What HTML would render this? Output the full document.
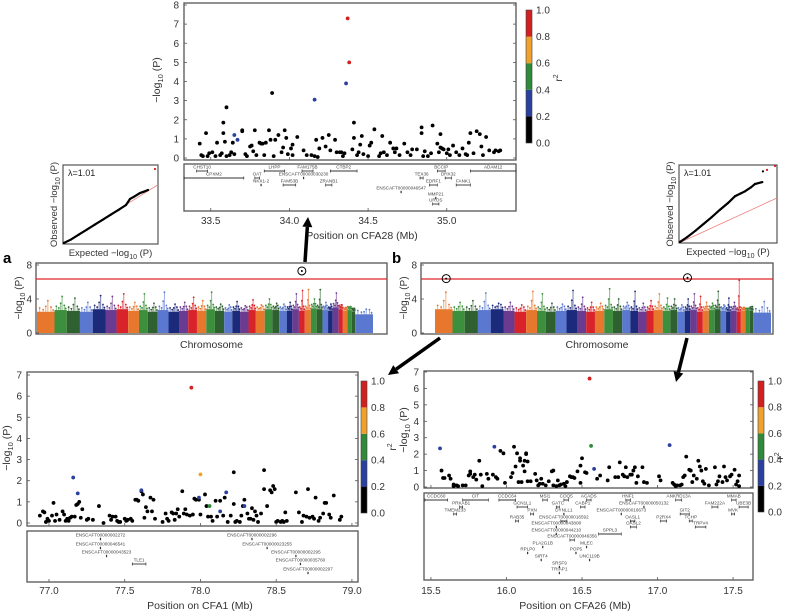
<!DOCTYPE html>
<html><head><meta charset="utf-8">
<style>
html,body{margin:0;padding:0;background:#fff;}
svg{display:block;font-family:"Liberation Sans",sans-serif;}
</style></head>
<body>
<svg id="fig" width="786" height="612" viewBox="0 0 786 612" xmlns="http://www.w3.org/2000/svg"></svg>
<script>
// ---------- DATA ----------
const c28Pos=[33.43,33.44,33.45,33.47,33.48,33.49,33.51,33.53,33.54,33.56,33.57,33.58,33.58,33.59,33.60,33.60,33.62,33.63,33.64,33.65,33.70,33.70,33.72,33.73,33.75,33.76,33.77,33.78,33.79,33.81,33.82,33.83,33.84,33.85,33.87,33.88,33.89,33.90,33.91,33.93,33.95,33.96,33.97,33.98,33.99,34.01,34.02,34.02,34.05,34.09,34.11,34.14,34.16,34.17,34.18,34.19,34.21,34.23,34.25,34.26,34.29,34.30,34.32,34.33,34.34,34.35,34.40,34.41,34.41,34.43,34.44,34.45,34.46,34.47,34.50,34.51,34.52,34.54,34.57,34.58,34.59,34.60,34.62,34.64,34.66,34.67,34.68,34.70,34.73,34.75,34.77,34.78,34.81,34.84,34.84,34.85,34.86,34.88,34.90,34.91,34.94,34.95,34.96,34.96,34.97,34.98,35.00,35.01,35.02,35.04,35.06,35.08,35.10,35.12,35.13,35.14,35.15,35.17,35.19,35.21,35.22,35.23,35.25,35.27,35.30,35.31,35.33,35.34];
const c28Val=[0.75,0.15,0.1,1.3,0.1,0.25,0.3,0.1,0.8,0.15,0.25,1.3,1.85,0.85,2.65,0.1,0.15,0.3,0.8,0.2,1.4,1.45,0.2,0.1,0.6,0.65,0.35,1.45,0.15,0.8,0.75,0.75,0.15,0.8,1.45,0.95,3.4,0.1,0.95,1.2,0.3,0.55,1.45,1.05,0.2,0.5,0.7,0.15,1.1,0.4,0.15,0.15,0.1,0.95,0.05,0.5,1.05,0.6,1.2,0.4,0.95,0.3,0.3,0.3,0.1,0.25,0.45,1.85,1.05,0.15,0.3,0.7,1.15,0.2,0.1,0.65,0.8,1.5,0.1,0.25,1.15,0.3,0.15,0.8,0.5,0.3,0.5,0.15,0.75,0.3,0.15,0.45,0.45,1.6,1.3,0.1,0.35,0.1,0.25,1.7,0.75,0.3,0.55,1.25,0.5,0.45,0.25,0.45,0.15,0.65,0.3,0.15,0.5,0.2,0.15,0.8,1.3,0.25,1.4,1.25,0.6,0.15,1.1,0.4,0.3,0.4,0.35,0.4];
const c28HitPos=[34.37,34.38,34.36,34.16,33.65,33.67];
const c28HitVal=[7.3,5.0,3.9,3.05,1.2,0.95];
const c28HitR2=[4,4,1,1,1,1];
const c28XTicks=[33.5,34.0,34.5,35.0];
const c28YTicks=[0,1,2,3,4,5,6,7,8];
const c28GeneName=["CHST10","CPXM2","OAT","NKX1-2","LHPP","FAM53B","ENSCAFT00000030230","FAM175B","ZRANB1","CTBP2","ENSCAFT00000046547","TEX36","EDRF1","MMP21","UROS","BCCIP","DHX32","FANK1","ADAM12"];
const c28GeneStart=[33.41,33.33,33.78,33.82,33.84,33.96,34.09,34.08,34.23,34.26,34.71,34.83,34.89,34.93,34.91,34.94,34.99,35.06,35.15];
const c28GeneEnd=[33.48,33.71,33.81,33.82,33.97,34.04,34.09,34.15,34.27,34.43,34.71,34.85,34.94,34.93,34.95,34.99,35.03,35.15,35.44];
const c28GeneRow=[0,1,1,2,0,2,1,0,2,0,3,1,2,4,5,0,1,2,0];

const c1Pos=[76.94,76.96,76.97,76.98,76.99,77.00,77.02,77.03,77.04,77.05,77.07,77.09,77.10,77.11,77.12,77.13,77.14,77.15,77.17,77.18,77.19,77.20,77.21,77.22,77.25,77.26,77.29,77.33,77.36,77.40,77.41,77.42,77.44,77.45,77.46,77.47,77.50,77.51,77.52,77.54,77.55,77.57,77.58,77.59,77.61,77.62,77.63,77.64,77.65,77.67,77.68,77.69,77.70,77.75,77.77,77.78,77.79,77.81,77.82,77.83,77.84,77.85,77.86,77.88,77.89,77.90,77.91,77.93,77.95,77.96,77.97,77.99,78.00,78.03,78.04,78.05,78.07,78.08,78.10,78.11,78.13,78.15,78.16,78.18,78.20,78.22,78.22,78.23,78.24,78.26,78.27,78.28,78.29,78.31,78.32,78.33,78.34,78.35,78.36,78.37,78.38,78.40,78.42,78.42,78.44,78.46,78.47,78.48,78.49,78.50,78.51,78.53,78.54,78.55,78.56,78.57,78.63,78.65,78.67,78.68,78.70,78.71,78.72,78.74,78.75,78.76,78.78,78.79,78.81,78.82,78.83,78.85,78.86,78.88,78.92,78.93];
const c1Val=[0.35,0.55,0.5,0.05,0.2,0.1,0.35,0.95,0.1,0.4,0.15,0.55,0.4,0.1,0.2,0.1,0.25,0.3,0.3,0.85,0.9,1.0,0.25,0.65,0.15,0.2,0.15,0.8,0.0,0.35,0.15,0.3,0.3,0.1,0.05,0.05,0.2,0.1,0.15,0.2,0.1,1.1,1.1,1.05,1.5,1.35,0.25,0.75,0.55,1.2,0.55,1.1,0.2,0.05,0.45,0.2,0.1,0.5,0.45,0.15,0.45,0.65,0.3,1.5,0.45,0.65,0.4,0.35,0.4,1.15,1.1,1.1,0.4,1.35,0.8,0.3,0.3,0.1,1.05,0.3,1.05,0.35,1.2,0.05,0.35,0.9,2.4,0.05,0.1,0.05,0.35,0.8,1.1,0.45,0.2,0.2,0.7,0.15,0.55,0.35,0.05,0.45,1.6,2.5,0.8,1.55,1.45,1.75,1.6,0.05,0.1,0.05,0.1,0.05,0.5,0.1,1.45,0.5,0.05,0.35,0.3,1.6,0.25,0.3,0.2,1.2,0.1,0.25,0.45,0.95,0.95,0.4,0.25,1.3,0.15,0.3];
const c1HitPos=[77.94,78.00,78.06,77.99,77.16,77.19,77.61,78.17,78.13,78.29];
const c1HitVal=[6.4,2.3,0.8,1.2,2.15,1.4,1.55,1.45,0.55,0.8];
const c1HitR2=[4,3,2,1,1,1,1,1,1,1];
const c1XTicks=[77.0,77.5,78.0,78.5,79.0];
const c1YTicks=[0,1,2,3,4,5,6,7];
const c1GeneName=["ENSCAFT00000002272","ENSCAFT00000046541","ENSCAFT00000043523","TLE1","ENSCAFT00000002296","ENSCAFT00000023255","ENSCAFT00000002295","ENSCAFT00000035760","ENSCAFT00000002297"];
const c1GeneStart=[77.34,77.34,77.38,77.55,78.34,78.44,78.63,78.66,78.71];
const c1GeneEnd=[77.34,77.34,77.38,77.64,78.34,78.44,78.63,78.66,78.71];
const c1GeneRow=[0,1,2,3,0,1,2,3,4];

const c26Pos=[15.57,15.58,15.59,15.62,15.63,15.65,15.65,15.67,15.68,15.71,15.73,15.75,15.76,15.76,15.78,15.79,15.80,15.82,15.83,15.84,15.87,15.88,15.91,15.93,15.94,15.96,15.98,15.99,16.03,16.04,16.05,16.06,16.07,16.08,16.09,16.09,16.10,16.11,16.12,16.12,16.13,16.13,16.14,16.14,16.16,16.19,16.20,16.21,16.22,16.23,16.24,16.26,16.28,16.30,16.31,16.31,16.33,16.34,16.35,16.36,16.38,16.39,16.40,16.42,16.43,16.44,16.45,16.47,16.49,16.49,16.50,16.52,16.53,16.60,16.62,16.67,16.68,16.72,16.74,16.75,16.77,16.78,16.79,16.80,16.82,16.83,16.84,16.85,16.86,16.87,16.90,16.91,16.93,17.01,17.02,17.10,17.11,17.12,17.13,17.15,17.16,17.17,17.18,17.19,17.21,17.22,17.23,17.24,17.26,17.27,17.28,17.29,17.30,17.31,17.32,17.34,17.38,17.39,17.40,17.41,17.43,17.44,17.45,17.46,17.48,17.49,17.51,17.52,17.53,17.54,17.54];
const c26Val=[1.0,0.55,0.55,0.7,0.5,0.15,0.05,0.1,0.05,0.1,0.1,0.7,0.95,0.8,0.6,0.75,0.45,1.6,0.75,0.05,0.8,0.5,0.75,0.6,0.5,2.2,2.05,0.25,0.6,0.85,2.45,1.25,2.05,0.3,1.6,1.75,0.3,1.3,0.95,1.6,2.0,2.05,1.55,0.35,0.35,0.8,0.4,0.1,0.2,0.5,0.2,0.1,0.35,0.95,1.0,0.1,0.05,0.4,0.1,0.15,0.2,0.05,0.3,0.65,0.6,0.6,0.55,0.95,0.25,1.3,1.75,0.9,0.85,0.5,0.7,0.4,1.2,0.6,0.6,1.5,0.75,0.65,1.2,0.6,0.75,0.75,1.0,1.2,0.25,0.65,1.2,0.3,0.25,0.65,0.4,0.25,0.15,0.05,0.1,0.1,0.15,0.6,0.7,1.85,1.05,1.0,0.3,0.7,0.5,1.6,1.25,1.0,0.35,0.2,1.1,0.1,1.2,0.15,0.35,0.65,0.3,1.25,0.6,0.4,0.65,0.75,1.05,0.15,0.35,0.7,0.05];
const c26HitPos=[16.55,16.56,16.58,15.56,15.92,17.08];
const c26HitVal=[6.6,2.5,1.1,2.35,2.45,2.55];
const c26HitR2=[4,2,1,1,1,1];
const c26XTicks=[15.5,16.0,16.5,17.0,17.5];
const c26YTicks=[0,1,2,3,4,5,6,7];
const c26GeneName=["CCDC60","CIT","PRKAB1","TMEM233","CCDC64","GCN1L1","PXN","RAB35","MSI1","COQ5","GATC","DYNLL1","ENSCAFT00000016592","ENSCAFT00000043808","ENSCAFT00000044210","ENSCAFT00000046356","PLA2G1B","RPLP0","SIRT4","SRSF9","TRIAP1","CABP1","ACADS","MLEC","POP5","UNC119B","SPPL3","HNF1","ENSCAFT00000050132","ENSCAFT00000016673","OASL1","OASL2","P2RX4","ANKRD13A","GIT2","TCHP","TRPV4","FAM222A","MMAB","UBE3B","MVK"];
const c26GeneStart=[15.46,15.71,15.69,15.65,15.95,16.07,16.16,16.06,16.24,16.38,16.33,16.38,16.36,16.33,16.33,16.42,16.24,16.14,16.23,16.35,16.35,16.49,16.53,16.53,16.46,16.55,16.61,16.79,16.91,16.76,16.82,16.82,17.02,17.12,17.15,17.21,17.25,17.36,17.49,17.54,17.49];
const c26GeneEnd=[15.61,15.88,15.71,15.67,16.06,16.14,16.18,16.08,16.27,16.41,16.35,16.38,16.40,16.33,16.33,16.45,16.24,16.14,16.23,16.35,16.35,16.52,16.56,16.53,16.46,16.55,16.76,16.82,16.91,16.76,16.85,16.86,17.06,17.16,17.21,17.23,17.32,17.40,17.52,17.60,17.51];
const c26GeneRow=[0,0,1,2,0,1,2,3,0,0,1,2,3,4,5,6,7,8,9,10,11,1,0,7,8,9,5,0,1,2,3,4,3,0,2,3,4,1,0,1,2];

const chrNames=["1","2","3","4","5","6","7","8","9","10","11","12","13","14","15","16","17","18","19","20","21","22","23","24","25","26","27","28","29","30","31","32","33","34","35","36","37","38","X"];
const chrLen=[122,85,92,89,89,77,81,75,61,70,75,73,64,61,65,60,65,56,54,59,51,62,53,48,52,39,46,41,42,41,40,39,32,42,29,31,31,24,124];
const manABase=[2.5,2.7,2.6,2.5,2.8,2.7,2.8,2.6,2.7,2.5,2.7,2.5,2.6,2.7,2.6,2.8,2.6,2.5,2.6,2.5,2.7,2.6,2.8,2.7,2.6,2.6,2.8,2.6,2.7,2.9,2.8,2.7,2.6,3.0,2.8,2.6,2.7,2.5,2.2];
const manAPeak=[3.8,4.3,4.1,3.6,4.4,4.3,4.6,3.6,4.6,3.5,4.8,3.4,3.6,4.2,3.8,4.8,3.4,3.3,3.7,3.2,3.9,3.3,4.0,3.5,3.4,3.6,4.6,5.0,5.1,4.0,5.1,3.6,3.4,4.7,3.3,3.0,3.1,2.9,2.8];
const manBBase=[2.8,2.6,2.6,2.7,2.8,2.6,2.5,2.7,2.6,2.5,2.6,2.7,2.6,2.5,2.6,2.8,2.6,2.7,2.6,2.5,2.6,2.7,2.6,2.7,2.5,2.6,2.7,2.5,2.6,2.7,2.8,2.6,2.5,2.6,2.5,2.6,2.7,2.6,2.4];
const manBPeak=[4.8,3.6,3.8,4.7,3.5,3.6,3.3,4.9,4.6,3.5,3.4,5.0,4.2,3.6,3.5,5.2,4.0,3.6,4.9,3.5,3.8,4.6,4.1,4.0,3.3,4.0,4.6,4.3,3.6,3.5,4.9,3.3,4.1,3.6,6.2,3.0,2.9,3.1,3.7];
const manAHitChr=[27]; const manAHitVal=[7.3];
const manBHitChr=[0,25]; const manBHitVal=[6.4,6.5];
const gwThreshold=6.35;
const manYTicks=[0,4,8];

const qqAExp=[0.05,0.5,1.0,1.5,2.0,2.5,3.0,3.5,3.98,4.23,4.5,4.86,5.1,5.37];
const qqAObs=[0.1,0.45,0.95,1.45,1.95,2.45,2.95,3.45,3.95,4.56,4.8,5.16,5.3,5.47];
const qqAHitExp=[5.81]; const qqAHitObs=[7.6];
const qqBExp=[0.05,0.5,1.0,1.5,2.0,2.5,3.0,3.43,3.8,4.04,4.4,4.65,5.1];
const qqBObs=[0.1,0.6,1.25,1.95,2.65,3.4,4.1,4.8,5.1,5.3,5.7,6.05,6.25];
const qqBHitExp=[5.39,5.88]; const qqBHitObs=[7.5,7.9];
const qqBTopExp=[5.14]; const qqBTopObs=[7.35];

// ---------- RENDER ----------
const svg=document.getElementById('fig');
const NS='http://www.w3.org/2000/svg';
function mk(tag,attrs,parent){const e=document.createElementNS(NS,tag);for(const k in attrs)e.setAttribute(k,attrs[k]);(parent||svg).appendChild(e);return e;}
function txt(s,x,y,size,anchor,parent,extra){const e=mk('text',Object.assign({x:x,y:y,'font-size':size,'text-anchor':anchor||'middle',fill:'#222'},extra||{}),parent);e.textContent=s;return e;}
const R2COL=['#000000','#2a3f9e','#2f8a3a','#eea12d','#d21f1f'];
function linear(d0,d1,r0,r1){return v=>r0+(v-d0)/(d1-d0)*(r1-r0);}

function regional(o){
  const g=mk('g',{});
  
  
  const X=linear(o.xd[0],o.xd[1],o.px0,o.px1);
  const Y=linear(0,o.ymax,o.y0v,o.ymaxPx);
  const fr=mk('rect',{x:o.px0,y:o.py0,width:o.px1-o.px0,height:o.py1-o.py0,fill:'none',stroke:'#555','stroke-width':1.3},g);
  
  
  const yt=mk('g',{},g);
  
  
  o.yticks.forEach(v=>{const y=Y(v);
    mk('line',{x1:o.px0,x2:o.px0+3,y1:y,y2:y,stroke:'#555','stroke-width':0.8},yt);
    mk('line',{x1:o.px1,x2:o.px1-3,y1:y,y2:y,stroke:'#555','stroke-width':0.8},yt);
    txt(String(v),o.px0-5,y+3.5,10,'end',yt,{fill:'#333'});});
  const yl=mk('text',{x:0,y:0,'font-size':10.5,'text-anchor':'middle',fill:'#333',transform:`translate(${o.ytitleX},${o.ytitleY}) rotate(-90)`},g);
  
  
  yl.innerHTML='−log<tspan font-size="7.5" dy="3">10</tspan><tspan dy="-3"> (P)</tspan>';
  const pts=mk('g',{},g);
  
  
  o.pos.forEach((p,i)=>{const c=mk('circle',{cx:X(p),cy:Y(o.val[i]),r:1.9,fill:'#000'},pts);
    
    });
  o.hpos.forEach((p,i)=>{const c=mk('circle',{cx:X(p),cy:Y(o.hval[i]),r:1.9,fill:R2COL[o.hr2[i]]},pts);
    
    });
  const gp=mk('g',{},g);
  
  
  mk('rect',{x:o.px0,y:o.gy0,width:o.px1-o.px0,height:o.gy1-o.gy0,fill:'none',stroke:'#555','stroke-width':1.3},gp);
  o.gname.forEach((n,i)=>{const y=o.rows[o.grow[i]];
    const x0=Math.max(o.px0,X(o.gs[i])),x1=Math.min(o.px1,X(o.ge[i]));
    if(x1-x0>1.5){mk('line',{x1:x0,x2:x1,y1:y,y2:y,stroke:'#333','stroke-width':0.9},gp);
      mk('line',{x1:x0,x2:x0,y1:y-1.5,y2:y+1.5,stroke:'#333','stroke-width':0.7},gp);
      mk('line',{x1:x1,x2:x1,y1:y-1.5,y2:y+1.5,stroke:'#333','stroke-width':0.7},gp);}
    else mk('rect',{x:x0-0.6,y:y-1.2,width:1.2,height:2.4,fill:'#333'},gp);
    const t=txt(n,(x0+x1)/2,y-2.3,4.6,'middle',gp,{fill:'#444'});
    
    });
  const xt=mk('g',{},g);
  
  
  o.xticks.forEach(v=>{const x=X(v);
    mk('line',{x1:x,x2:x,y1:o.gy1,y2:o.gy1-3,stroke:'#555','stroke-width':0.8},xt);
    mk('line',{x1:x,x2:x,y1:o.py1,y2:o.py1-3,stroke:'#555','stroke-width':0.8},xt);
    txt(v.toFixed(1),x,o.xlabY,10,'middle',xt,{fill:'#333'});});
  const xtl=txt(o.xtitle,o.xtitleX,o.xtitleY,10.5,'middle',g,{fill:'#333'});
  
  
  const cb=mk('g',{},g);
  
  
  const h=(o.cb[3]-o.cb[1])/5;
  for(let i=0;i<5;i++) mk('rect',{x:o.cb[0],y:o.cb[3]-(i+1)*h,width:o.cb[2]-o.cb[0],height:h,fill:R2COL[i]},cb);
  mk('rect',{x:o.cb[0],y:o.cb[1],width:o.cb[2]-o.cb[0],height:o.cb[3]-o.cb[1],fill:'none',stroke:'#444','stroke-width':0.6},cb);
  ['0.0','0.2','0.4','0.6','0.8','1.0'].forEach((s,i)=>txt(s,o.cb[2]+4,o.cb[3]-i*h+3.5,10,'start',cb,{fill:'#333'}));
  const rl=mk('text',{x:0,y:0,'font-size':10,'text-anchor':'middle',fill:'#333',transform:`translate(${o.r2x},${o.r2y}) rotate(-90)`},cb);
  rl.innerHTML='r<tspan font-size="7" dy="-4">2</tspan>';
}

regional({name:'cfa28-regional-plot',xd:[33.33,35.44],px0:184,px1:516,py0:3,py1:160,y0v:158,ymax:8,ymaxPx:5,
  pos:c28Pos,val:c28Val,hpos:c28HitPos,hval:c28HitVal,hr2:c28HitR2,xticks:c28XTicks,yticks:c28YTicks,
  gname:c28GeneName,gs:c28GeneStart,ge:c28GeneEnd,grow:c28GeneRow,rows:[171,178,185,192,198,204],
  gy0:164,gy1:211,xlabY:224,xtitle:'Position on CFA28 (Mb)',xtitleX:362,xtitleY:239,ytitleX:160,ytitleY:80,
  cb:[526,10,532,143],r2x:562,r2y:78});
regional({name:'cfa1-regional-plot',xd:[76.855,79.04],px0:27,px1:358,py0:372,py1:526,y0v:523,ymax:7,ymaxPx:375,
  pos:c1Pos,val:c1Val,hpos:c1HitPos,hval:c1HitVal,hr2:c1HitR2,xticks:c1XTicks,yticks:c1YTicks,
  gname:c1GeneName,gs:c1GeneStart,ge:c1GeneEnd,grow:c1GeneRow,rows:[539,548,556,564,573],
  gy0:531,gy1:582,xlabY:594,xtitle:'Position on CFA1 (Mb)',xtitleX:200,xtitleY:609,ytitleX:10,ytitleY:448,
  cb:[361,381,367,513],r2x:396,r2y:447});
regional({name:'cfa26-regional-plot',xd:[15.454,17.632],px0:424,px1:753,py0:371,py1:488,y0v:487,ymax:7,ymaxPx:372,
  pos:c26Pos,val:c26Val,hpos:c26HitPos,hval:c26HitVal,hr2:c26HitR2,xticks:c26XTicks,yticks:c26YTicks,
  gname:c26GeneName,gs:c26GeneStart,ge:c26GeneEnd,grow:c26GeneRow,rows:[500,507,514,521,527,534,540,547,553,560,567,573],
  gy0:493,gy1:580,xlabY:594,xtitle:'Position on CFA26 (Mb)',xtitleX:575,xtitleY:609,ytitleX:407,ytitleY:430,
  cb:[758,381,764,512],r2x:783,r2y:456});

const CHRCOL=['#e8772e','#3c8f3c','#2e6030','#5a78d0','#1c2a7c','#6b3a91','#d8232a'];
function manhattan(o){
  const g=mk('g',{});
  
  
  const total=chrLen.reduce((a,b)=>a+b,0);
  const X=linear(0,total,o.dx0,o.dx1);
  const Y=linear(0,8,333,265);
  mk('rect',{x:o.bx0,y:263,width:o.bx1-o.bx0,height:71,fill:'#fff',stroke:'#555','stroke-width':1.3},g);
  let cum=0;
  chrLen.forEach((L,i)=>{
    const x0=X(cum),x1=X(cum+L),col=CHRCOL[i%7];
    const cg=mk('g',{},g);
    
    
    mk('rect',{x:x0,y:Y(o.base[i]),width:x1-x0,height:Y(0)-Y(o.base[i]),fill:col},cg);
    const w=x1-x0,b=o.base[i],p=o.peak[i];
    const tops=[[0.15,b+0.45],[0.35,b+0.25],[0.5,(b+p)/2],[0.62,p],[0.8,b+0.55],[0.92,b+0.2]];
    tops.forEach(t=>{const hv=Math.min(t[1],p);
      mk('rect',{x:x0+w*t[0]-0.5,y:Y(hv),width:1,height:Y(b)-Y(hv),fill:col,opacity:0.6},cg);
      mk('circle',{cx:x0+w*t[0],cy:Y(hv),r:0.9,fill:col},cg);});
    cum+=L;});
  const th=mk('line',{x1:o.bx0,x2:o.bx1,y1:Y(gwThreshold),y2:Y(gwThreshold),stroke:'#e0262b','stroke-width':1.2},g);
  
  
  const starts=[];let c=0;chrLen.forEach(L=>{starts.push(c);c+=L;});
  o.hitChr.forEach((ci,k)=>{const x=X(starts[ci]+chrLen[ci]*(ci===0?0.64:0.5));const y=Y(o.hitVal[k]);
    const cc=mk('circle',{cx:x,cy:y,r:4,fill:'none',stroke:'#000','stroke-width':1},g);
    
    
    mk('circle',{cx:x,cy:y,r:1,fill:'#000'},g);});
  manYTicks.forEach(v=>{mk('line',{x1:o.bx0,x2:o.bx0+3,y1:Y(v),y2:Y(v),stroke:'#555','stroke-width':0.8},g);
    txt(String(v),o.bx0-4,Y(v)+3.5,10,'end',g,{fill:'#333'});});
  const yl=mk('text',{x:0,y:0,'font-size':10,'text-anchor':'middle',fill:'#333',transform:`translate(${o.bx0-14},${298}) rotate(-90)`},g);
  
  
  yl.innerHTML='−log<tspan font-size="7" dy="3">10</tspan><tspan dy="-3"> (P)</tspan>';
  const xl=txt('Chromosome',(o.bx0+o.bx1)/2,348,10.5,'middle',g,{fill:'#333'});
  
  
  const pl=txt(o.label,o.lx,263,15,'start',g,{fill:'#000','font-weight':'bold'});
  
  
}
manhattan({name:'manhattan-plot-a',bx0:36,bx1:387,dx0:37,dx1:373,base:manABase,peak:manAPeak,hitChr:manAHitChr,hitVal:manAHitVal,label:'a',lx:3});
manhattan({name:'manhattan-plot-b',bx0:421,bx1:773,dx0:435,dx1:771,base:manBBase,peak:manBPeak,hitChr:manBHitChr,hitVal:manBHitVal,label:'b',lx:392});

function qq(o){
  const g=mk('g',{});
  
  
  const X=linear(0,6,o.x0,o.x1),Y=linear(0,8,o.y1,o.y0);
  mk('rect',{x:o.x0,y:o.y0,width:o.x1-o.x0,height:o.y1-o.y0,fill:'#fff',stroke:'#555','stroke-width':1.2},g);
  const rl=mk('line',{x1:X(0),y1:Y(0),x2:X(6),y2:Y(6*o.slope),stroke:'#f08080','stroke-width':0.8},g);
  
  
  const pl=mk('polyline',{points:o.ex.map((e,i)=>X(e)+','+Y(o.ob[i])).join(' '),fill:'none',stroke:'#000','stroke-width':2.2},g);
  
  
  o.ex.forEach((e,i)=>mk('circle',{cx:X(e),cy:Y(o.ob[i]),r:1.1,fill:'#000'},g));
  (o.tx||[]).forEach((e,i)=>mk('circle',{cx:X(e),cy:Y(o.ty[i]),r:1.1,fill:'#000'},g));
  o.hx.forEach((e,i)=>mk('circle',{cx:X(e),cy:Y(o.hy[i]),r:1.1,fill:'#d21f1f'},g));
  txt('λ=1.01',o.x0+5,o.y0+11,9,'start',g,{fill:'#222'});
  const xl=mk('text',{x:(o.x0+o.x1)/2,y:o.y1+12,'font-size':9.5,'text-anchor':'middle',fill:'#333'},g);
  xl.innerHTML='Expected −log<tspan font-size="7" dy="3">10</tspan><tspan dy="-3"> (P)</tspan>';
  const yl=mk('text',{x:0,y:0,'font-size':9.5,'text-anchor':'middle',fill:'#333',transform:`translate(${o.x0-6},${(o.y0+o.y1)/2}) rotate(-90)`},g);
  yl.innerHTML='Observed −log<tspan font-size="7" dy="3">10</tspan><tspan dy="-3"> (P)</tspan>';
}
qq({name:'qq-plot-a',x0:63,x1:158,y0:165,y1:244,ex:qqAExp,ob:qqAObs,hx:qqAHitExp,hy:qqAHitObs,slope:1});
qq({name:'qq-plot-b',x0:679,x1:777,y0:165,y1:243,ex:qqBExp,ob:qqBObs,hx:qqBHitExp,hy:qqBHitObs,tx:qqBTopExp,ty:qqBTopObs,slope:0.77});

function arrow(x1,y1,x2,y2,name){
  const g=mk('g',{});
  
  
  const a=Math.atan2(y2-y1,x2-x1),L=10,W=5;
  const bx=x2-L*Math.cos(a),by=y2-L*Math.sin(a);
  mk('line',{x1:x1,y1:y1,x2:bx,y2:by,stroke:'#000','stroke-width':3.5},g);
  mk('polygon',{points:`${x2},${y2} ${bx+W*Math.sin(a)},${by-W*Math.cos(a)} ${bx-W*Math.sin(a)},${by+W*Math.cos(a)}`,fill:'#000'},g);
}
arrow(305,262,308,217,'arrow-to-cfa28');
arrow(440,338,388,375,'arrow-to-cfa1');
arrow(687,338,676,382,'arrow-to-cfa26');
</script>
</body></html>
